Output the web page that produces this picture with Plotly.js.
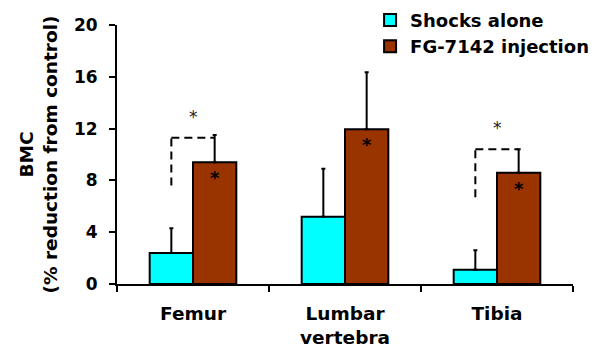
<!DOCTYPE html>
<html>
<head>
<meta charset="utf-8">
<script src="https://cdn.plot.ly/plotly-3.0.1.min.js"></script>
<style>html,body{margin:0;padding:0;background:#fff;}#chart{width:602px;height:350px;}</style>
</head>
<body>
<div id="chart"></div>
<script>
const categories = ['Femur', 'Lumbar<br>vertebra', 'Tibia'];
const seriesNames = ['Shocks alone', 'FG-7142 injection'];
const shocksAlone = [2.4, 5.2, 1.1];
const shocksAloneErr = [1.9, 3.7, 1.5];
const fgInjection = [9.4, 11.95, 8.6];
const fgInjectionErr = [2.1, 4.4, 1.8];
const bracketCats = [0, 2];          // category indexes with a dashed bracket
const bracketLow = [7.6, 6.7];       // bottom of the dashed vertical
const bracketHigh = [11.3, 10.4];    // height of the dashed horizontal
const yTicks = [0, 4, 8, 12, 16, 20];

const FONT = 'DejaVu Sans, Liberation Sans, Arial, sans-serif';
const bargap = 0.43;
const half = (1 - bargap) / 4; // centre offset of each bar within a group

const traces = [
  {
    type: 'bar', name: seriesNames[0], x: categories, y: shocksAlone,
    marker: {color: '#00FFFF', line: {color: '#000', width: 2}},
    error_y: {type: 'data', symmetric: false, array: shocksAloneErr, arrayminus: shocksAloneErr.map(() => 0), color: '#000', thickness: 2, width: 2}
  },
  {
    type: 'bar', name: seriesNames[1], x: categories, y: fgInjection,
    marker: {color: '#993300', line: {color: '#000', width: 2}},
    error_y: {type: 'data', symmetric: false, array: fgInjectionErr, arrayminus: fgInjectionErr.map(() => 0), color: '#000', thickness: 2, width: 2}
  }
];

const shapes = [];
const annotations = [];
bracketCats.forEach((c, i) => {
  const dash = {color: '#000', width: 2, dash: '8px,5px'};
  shapes.push({type: 'line', xref: 'x', yref: 'y', x0: c - half, x1: c - half, y0: bracketLow[i], y1: bracketHigh[i], line: dash});
  shapes.push({type: 'line', xref: 'x', yref: 'y', x0: c - half, x1: c + half, y0: bracketHigh[i], y1: bracketHigh[i], line: dash});
  annotations.push({xref: 'x', yref: 'y', x: c, y: bracketHigh[i], text: '*', showarrow: false, yanchor: 'bottom', yshift: 9,
    font: {family: FONT, size: 17, color: '#222'}});
});
fgInjection.forEach((v, c) => {
  annotations.push({xref: 'x', yref: 'y', x: c + half, y: v, text: '*', showarrow: false, yanchor: 'top', yshift: -3,
    font: {family: FONT, size: 18, color: '#000', weight: 700}});
});

const layout = {
  width: 602, height: 350,
  margin: {l: 117, r: 29, t: 25, b: 66, autoexpand: false},
  paper_bgcolor: '#fff', plot_bgcolor: '#fff',
  barmode: 'group', bargap: bargap, bargroupgap: 0,
  showlegend: true,
  legend: {x: 0.555, y: 1.09, xanchor: 'left', yanchor: 'top', bgcolor: 'rgba(0,0,0,0)',
    font: {family: FONT, size: 18, color: '#000', weight: 700}, tracegroupgap: 0, itemwidth: 30},
  xaxis: {
    type: 'category', range: [-0.5, 2.5], showline: true, linecolor: '#000', linewidth: 2,
    ticks: 'outside', tickson: 'boundaries', ticklen: 6, tickwidth: 2, tickcolor: '#000',
    showgrid: false, zeroline: false, ticklabelstandoff: 12, automargin: false,
    tickfont: {family: FONT, size: 18.5, color: '#000', weight: 700}
  },
  yaxis: {
    range: [0, 20], tickvals: yTicks, ticktext: yTicks.map(String),
    showline: true, linecolor: '#000', linewidth: 2, ticks: 'outside', ticklen: 6, tickwidth: 2, tickcolor: '#000',
    showgrid: false, zeroline: false, ticklabelstandoff: 8, automargin: false,
    tickfont: {family: FONT, size: 17, color: '#000', weight: 700},
    title: {text: 'BMC<br>(% reduction from control)', standoff: 11, font: {family: FONT, size: 18.5, color: '#000', weight: 700}}
  },
  shapes: shapes,
  annotations: annotations
};

Plotly.newPlot('chart', traces, layout, {displayModeBar: false, staticPlot: true});
</script>
</body>
</html>
